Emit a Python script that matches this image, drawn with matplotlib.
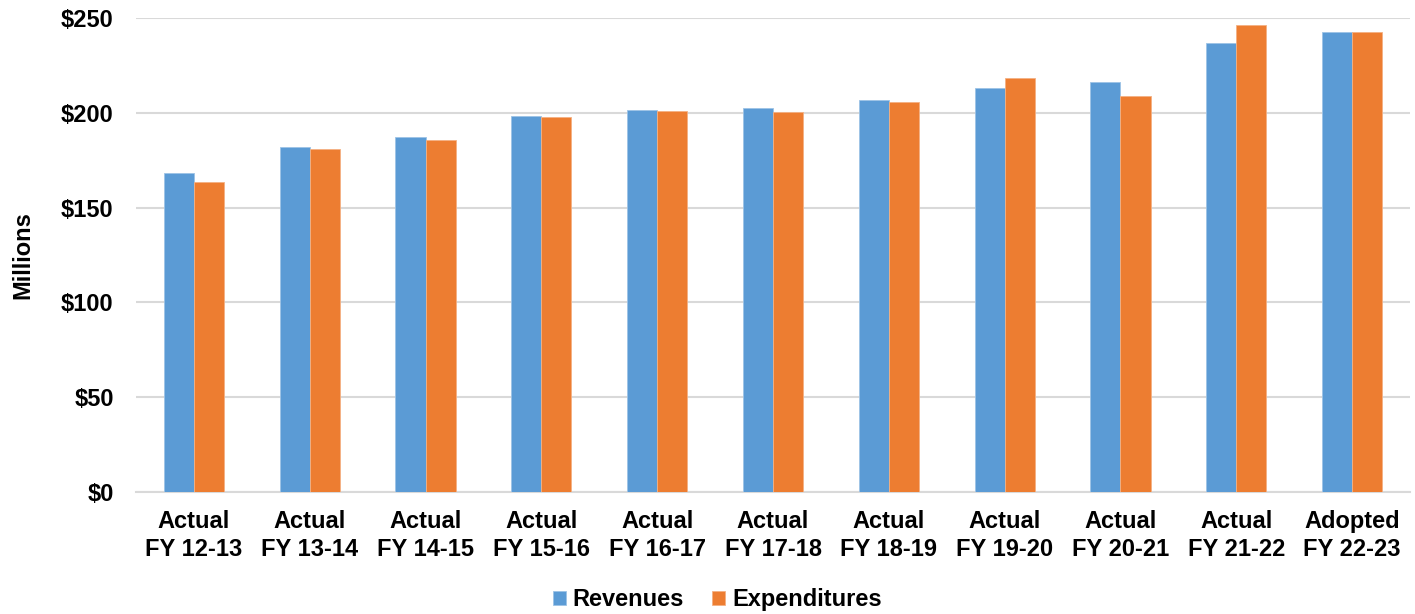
import numpy as np
import matplotlib
matplotlib.use("Agg")
import matplotlib.pyplot as plt

plt.rcParams['font.family'] = ['Liberation Sans', 'DejaVu Sans']
plt.rcParams['font.weight'] = 'bold'

categories = ["Actual\nFY 12-13", "Actual\nFY 13-14", "Actual\nFY 14-15", "Actual\nFY 15-16",
              "Actual\nFY 16-17", "Actual\nFY 17-18", "Actual\nFY 18-19", "Actual\nFY 19-20",
              "Actual\nFY 20-21", "Actual\nFY 21-22", "Adopted\nFY 22-23"]
revenues = [168.2, 182.1, 187.4, 198.6, 201.8, 202.5, 206.8, 213.1, 216.3, 237.2, 242.7]
expenditures = [163.4, 181.0, 185.8, 198.1, 201.3, 200.7, 205.7, 218.4, 209.0, 246.4, 242.7]
y_ticks = [0, 50, 100, 150, 200, 250]
y_tick_labels = ["$0", "$50", "$100", "$150", "$200", "$250"]

blue = "#5B9BD5"
orange = "#ED7D31"
fs = 17

fig = plt.figure(figsize=(14.15, 6.14), dpi=100)
ax = fig.add_axes([0.0961, 0.1995, 0.9004, 0.7704])

x = np.arange(len(categories))
w = 0.26
ax.bar(x - w / 2, revenues, width=w, color=blue, edgecolor="#9DC3E6", linewidth=0.6,
       label="Revenues", zorder=3)
ax.bar(x + w / 2, expenditures, width=w, color=orange, edgecolor="#F4B183", linewidth=0.6,
       label="Expenditures", zorder=3)

ax.set_xlim(-0.5, len(categories) - 0.5)
ax.set_ylim(0, 250)
ax.set_yticks(y_ticks)
ax.set_yticklabels(y_tick_labels, fontsize=fs, fontweight="bold")
ax.set_xticks(x)
ax.set_xticklabels(categories, fontsize=fs, fontweight="bold", linespacing=1.3)
ax.tick_params(axis="y", length=0, pad=16)
ax.tick_params(axis="x", length=0, pad=13)

ax.grid(axis="y", color="#D9D9D9", linewidth=1.5, zorder=0)
for s in ["top", "right", "left"]:
    ax.spines[s].set_visible(False)
ax.spines["bottom"].set_color("#D9D9D9")
ax.spines["bottom"].set_linewidth(1.5)

fig.text(0.016, 0.585, "Millions", rotation=90, ha="center", va="center",
         fontsize=fs, fontweight="bold")

fig.legend(loc="lower center", bbox_to_anchor=(0.507, -0.03), ncol=2, frameon=False,
           handlelength=0.55, handleheight=0.55, handletextpad=0.3,
           columnspacing=1.2, prop={"weight": "bold", "size": fs})

fig.savefig("out.png", dpi=100, facecolor="white")
